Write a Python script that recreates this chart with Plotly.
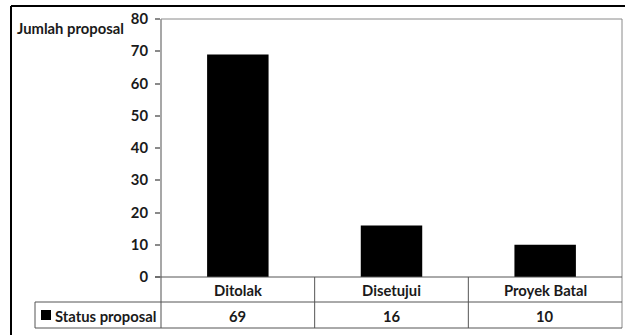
import plotly.graph_objects as go

# Proposal status counts
categories = ["Ditolak", "Disetujui", "Proyek Batal"]
values = [69, 16, 10]
series_name = "Status proposal"
y_title = "Jumlah proposal"
y_ticks = [0, 10, 20, 30, 40, 50, 60, 70, 80]

W, H = 625, 335
L, R, T, B = 161, 3, 19, 58
plot_w = W - L - R
plot_h = H - T - B


def py(pixel_y):
    """Convert a page pixel row to paper y."""
    return (H - B - pixel_y) / plot_h


def px(pixel_x):
    """Convert a page pixel column to paper x."""
    return (pixel_x - L) / plot_w


FONT = "Lato"
TXT = "#1a1a1a"
GRID = "#555555"
AXIS = "#8a8a8a"

fig = go.Figure(
    go.Bar(
        x=categories,
        y=values,
        width=0.4,
        marker=dict(color="#000000", line=dict(width=0)),
        name=series_name,
        showlegend=False,
    )
)

shapes = []
annotations = []

row1_bot = py(302)
row2_bot = py(328)
legend_left = px(35)

# plot-area border (top, right)
shapes.append(dict(type="line", xref="paper", yref="paper", x0=0, x1=1, y0=1, y1=1,
                   line=dict(color=AXIS, width=1)))
shapes.append(dict(type="line", xref="paper", yref="paper", x0=1, x1=1, y0=1, y1=row2_bot,
                   line=dict(color=AXIS, width=1)))
# value axis line extended through the table
shapes.append(dict(type="line", xref="paper", yref="paper", x0=0, x1=0, y0=1, y1=row2_bot,
                   line=dict(color=AXIS, width=1.5)))

# data table lines
shapes.append(dict(type="line", xref="paper", yref="paper", x0=px(155), x1=1, y0=0, y1=0,
                   line=dict(color=GRID, width=1)))
shapes.append(dict(type="line", xref="paper", yref="paper", x0=legend_left, x1=1,
                   y0=row1_bot, y1=row1_bot, line=dict(color=GRID, width=1)))
shapes.append(dict(type="line", xref="paper", yref="paper", x0=legend_left, x1=1,
                   y0=row2_bot, y1=row2_bot, line=dict(color=GRID, width=1)))
shapes.append(dict(type="line", xref="paper", yref="paper", x0=legend_left, x1=legend_left,
                   y0=row1_bot, y1=row2_bot, line=dict(color=GRID, width=1)))
for i in range(1, len(categories)):
    shapes.append(dict(type="line", xref="x", yref="paper", x0=i - 0.5, x1=i - 0.5,
                       y0=0, y1=row2_bot, line=dict(color=GRID, width=1)))

# legend key square
shapes.append(dict(type="rect", xref="paper", yref="paper",
                   x0=px(41), x1=px(51), y0=py(320), y1=py(310),
                   fillcolor="#000000", line=dict(width=0)))

# outer frame (top and left edges)
shapes.append(dict(type="line", xref="paper", yref="paper", x0=px(11), x1=px(640),
                   y0=py(6), y1=py(6), line=dict(color="#000000", width=2)))
shapes.append(dict(type="line", xref="paper", yref="paper", x0=px(11), x1=px(11),
                   y0=py(6), y1=py(345), line=dict(color="#000000", width=2)))

font = dict(family=FONT, size=14.8, color=TXT)
row1_mid = py(289.5)
row2_mid = py(315.5)
for cat, val in zip(categories, values):
    annotations.append(dict(x=cat, y=row1_mid, xref="x", yref="paper", text=f"<b>{cat}</b>",
                            showarrow=False, font=font, xanchor="center", yanchor="middle"))
    annotations.append(dict(x=cat, y=row2_mid, xref="x", yref="paper", text=f"<b>{val}</b>",
                            showarrow=False, font=font, xanchor="center", yanchor="middle"))

annotations.append(dict(x=px(53), y=row2_mid, xref="paper", yref="paper",
                        text=f"<b>{series_name}</b>", showarrow=False, font=font,
                        xanchor="left", yanchor="middle"))
annotations.append(dict(x=px(15), y=py(28), xref="paper", yref="paper",
                        text=f"<b>{y_title}</b>", showarrow=False, font=font,
                        xanchor="left", yanchor="middle"))

fig.update_layout(
    width=W,
    height=H,
    margin=dict(l=L, r=R, t=T, b=B, pad=0),
    paper_bgcolor="#ffffff",
    plot_bgcolor="#ffffff",
    shapes=shapes,
    annotations=annotations,
    xaxis=dict(range=[-0.5, len(categories) - 0.5], showticklabels=False, showline=False,
               showgrid=False, zeroline=False, ticks=""),
    yaxis=dict(range=[0, 80], tickvals=y_ticks,
               ticktext=[f"<b>{v}</b>" for v in y_ticks],
               ticks="outside", ticklen=5, tickcolor=AXIS, tickwidth=1.5,
               showline=False, showgrid=False, zeroline=False,
               tickfont=font, ticklabelstandoff=4),
)

fig.write_html("out.html")
